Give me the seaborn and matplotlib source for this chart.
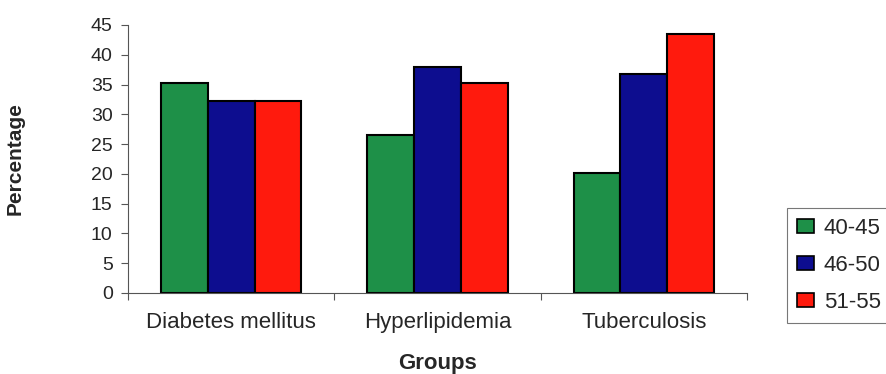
import matplotlib
matplotlib.use("Agg")
import matplotlib.pyplot as plt
import seaborn as sns
import pandas as pd
from matplotlib.patches import Patch

categories = ["Diabetes mellitus", "Hyperlipidemia", "Tuberculosis"]
age_groups = ["40-45", "46-50", "51-55"]
vals_40_45 = [35.2, 26.5, 20.2]
vals_46_50 = [32.3, 38.0, 36.8]
vals_51_55 = [32.3, 35.3, 43.5]
colors = ["#1e9048", "#0d0d8f", "#ff1a0d"]

rows = []
for g, vals in zip(age_groups, [vals_40_45, vals_46_50, vals_51_55]):
    for c, v in zip(categories, vals):
        rows.append({"Groups": c, "Age": g, "Percentage": v})
df = pd.DataFrame(rows)

sns.set_style("white")
plt.rcParams["font.family"] = ["Liberation Sans", "DejaVu Sans"]

fig = plt.figure(figsize=(8.87, 3.74), dpi=100)
ax = fig.add_axes([0.1443, 0.2166, 0.6979, 0.7166])

sns.barplot(data=df, x="Groups", y="Percentage", hue="Age", order=categories,
            hue_order=age_groups, palette=colors, width=0.68, saturation=1,
            edgecolor="black", linewidth=1.5, ax=ax, legend=False)

ax.set_ylim(0, 45)
ax.set_xlim(-0.5, 2.5)
ax.set_yticks(range(0, 46, 5))
ax.tick_params(axis="y", labelsize=14, length=5, direction="out", left=True,
               color="#555555", width=0.8, pad=6)
ax.set_xticks(range(3))
ax.set_xticklabels(categories, fontsize=16)
ax.tick_params(axis="x", length=0, pad=14)
ax.set_xticks([-0.5, 0.5, 1.5, 2.5], minor=True)
ax.tick_params(axis="x", which="minor", length=5, direction="out", bottom=True,
               color="#555555", width=0.8)

for s in ["top", "right"]:
    ax.spines[s].set_visible(False)
for s in ["left", "bottom"]:
    ax.spines[s].set_color("#555555")
    ax.spines[s].set_linewidth(0.8)

ax.set_xlabel("Groups", fontsize=16, fontweight="bold", labelpad=14)
ax.set_ylabel("Percentage", fontsize=15, fontweight="bold", labelpad=48)

handles = [Patch(facecolor=c, edgecolor="black", linewidth=1.2, label=g)
           for c, g in zip(colors, age_groups)]
leg = fig.legend(handles=handles, loc="upper left",
                 bbox_to_anchor=(787 / 887, 1 - 208 / 374), borderaxespad=0,
                 frameon=True, fontsize=16, handlelength=0.75, handleheight=0.6,
                 handletextpad=0.45, labelspacing=0.72, borderpad=0.45, fancybox=False,
                 edgecolor="#555555")
leg.get_frame().set_linewidth(0.8)

fig.savefig("out.png", dpi=100)
